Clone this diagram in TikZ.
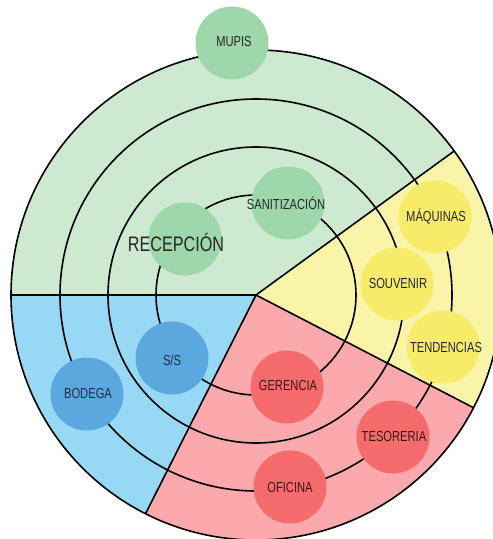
\documentclass[tikz,border=0pt]{standalone}
\usepackage{fontspec}
\newfontfamily\lbl{Liberation Sans}[FakeStretch=0.77]
\definecolor{gbg}{HTML}{CDE9D0}
\definecolor{gdot}{HTML}{9ED8AA}
\definecolor{ybg}{HTML}{F9F4A8}
\definecolor{ydot}{HTML}{F6EC6A}
\definecolor{rbg}{HTML}{FCA9AD}
\definecolor{rdot}{HTML}{F66B6C}
\definecolor{bbg}{HTML}{97D8F5}
\definecolor{bdot}{HTML}{5AA8DE}
\definecolor{txt}{HTML}{262626}
\definecolor{btxt}{HTML}{1B2D4F}
\definecolor{rtxt}{HTML}{3A1414}
\begin{document}
\begin{tikzpicture}[x=1pt,y=-1pt,
  ln/.style={line width=1.6pt,black},
  spot/.style={circle,fill=#1,minimum size=73pt,inner sep=0pt},
  word/.style={inner sep=0pt,text=txt,font=\lbl\fontsize{14.5}{16}\selectfont},
  bigword/.style={inner sep=0pt,text=txt,font=\lbl\fontsize{21}{24}\selectfont}]
\useasboundingbox (0,0) rectangle (493,539);
\clip (0,0) rectangle (493,539);
\coordinate (c) at (256,295);
% sectors
\fill[gbg] (c) -- ++(-180:245) arc[start angle=-180,end angle=-36,radius=245] -- cycle;
\fill[ybg] (c) -- ++(-36:245) arc[start angle=-36,end angle=27.4,radius=245] -- cycle;
\fill[rbg] (c) -- ++(27.4:245) arc[start angle=27.4,end angle=116.8,radius=245] -- cycle;
\fill[bbg] (c) -- ++(116.8:245) arc[start angle=116.8,end angle=180,radius=245] -- cycle;
% rings
\draw[ln] (c) circle[radius=100];
\draw[ln] (c) circle[radius=148];
\draw[ln] (c) circle[radius=196];
\draw[ln] (c) circle[radius=245];
% sector borders
\draw[ln] (c) -- ++(-36:245);
\draw[ln] (c) -- ++(27.4:245);
\draw[ln] (c) -- ++(116.8:245);
\draw[ln] (c) -- ++(180:245);
% spots
\node[spot=gdot] (mupis) at (232,43) {};
\node[spot=gdot] (sani) at (288,203) {};
\node[spot=gdot] (rece) at (185,239) {};
\node[spot=ydot] (maqu) at (435,217) {};
\node[spot=ydot] (souv) at (397,284) {};
\node[spot=ydot] (tend) at (443,347) {};
\node[spot=bdot] (ss) at (172,358) {};
\node[spot=bdot] (bode) at (87,394) {};
\node[spot=rdot] (gere) at (287,387) {};
\node[spot=rdot] (teso) at (393,437) {};
\node[spot=rdot] (ofic) at (290,487) {};
% labels
\node[word] (tmupis) at (234,42) {MUPIS};
\node[word] (tsani) at (286,203) {SANITIZACIÓN};
\node[bigword] (trece) at (176,242) {RECEPCIÓN};
\node[word] (tmaqu) at (436,217) {MÁQUINAS};
\node[word] (tsouv) at (398,284) {SOUVENIR};
\node[word] (ttend) at (446,348) {TENDENCIAS};
\node[word,text=btxt] (tss) at (172,360) {S/S};
\node[word,text=btxt] (tbode) at (88,394) {BODEGA};
\node[word,text=rtxt] (tgere) at (288,386) {GERENCIA};
\node[word,text=rtxt] (tteso) at (394,437) {TESORERIA};
\node[word,text=rtxt] (tofic) at (290,488) {OFICINA};
\end{tikzpicture}
\end{document}
